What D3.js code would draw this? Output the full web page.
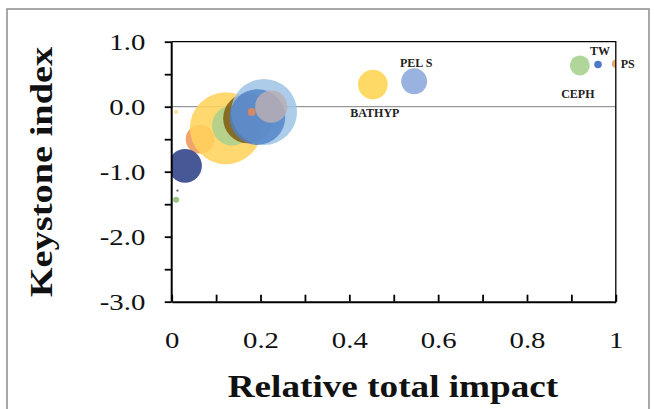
<!DOCTYPE html>
<html>
<head>
<meta charset="utf-8">
<script src="https://d3js.org/d3.v7.min.js"></script>
<style>
  body { margin: 0; background: #fff; }
  text { font-family: "Liberation Serif", "Times New Roman", serif; }
</style>
</head>
<body>
<div id="chart"></div>
<script>
// values
const groups    = ["", "", "", "", "", "", "", "", "", "", "", "", "BATHYP", "PEL S", "CEPH", "TW", "PS"];
const relImpact = [0.064, 0.122, 0.136, 0.172, 0.208, 0.193, 0.224, 0.18, 0.03, 0.01, 0.013, 0.01, 0.453, 0.546, 0.919, 0.96, 1.0];
const keystone  = [-0.50, -0.33, -0.29, -0.18, -0.08, -0.16, 0.0, -0.08, -0.91, -0.08, -1.29, -1.43, 0.34, 0.39, 0.635, 0.65, 0.66];
const biomass   = [16, 100, 31, 48, 84, 60, 20, 1.2, 22, 0.3, 0.1, 0.7, 17, 13, 7.7, 1.1, 1.2];
const xTicks = [0, 0.1, 0.2, 0.3, 0.4, 0.5, 0.6, 0.7, 0.8, 0.9, 1];
const yTicks = [1, 0.5, 0, -0.5, -1, -1.5, -2, -2.5, -3];

// styles
const fills = ["#ED7D31", "#FFD35C", "#A9D18E", "#7F5A10", "#9DC3E6", "#4F81C7", "#B8ADB4", "#F08A4B",
               "#3D4F91", "#FFC000", "#333333", "#70AD47", "#FFC000", "#8FAADC", "#A9D18E", "#4472C4", "#ED7D31"];
const alphas = [0.7, 0.88, 0.85, 0.85, 0.85, 0.8, 0.85, 0.8, 0.95, 0.5, 0.8, 0.7, 0.6, 0.9, 0.9, 0.95, 0.7];
// label offsets from bubble centre (dx, dy to baseline)
const labelPos = { "BATHYP": [2, 32, "middle"], "PEL S": [2, -14, "middle"], "CEPH": [-2, 33, "middle"],
                   "TW": [2, -9, "middle"], "PS": [5, 4, "start"] };

const W = 654, H = 409;
const margin = {left: 171.7, right: 38.2, top: 41.7, bottom: 107.3};
const iw = W - margin.left - margin.right, ih = H - margin.top - margin.bottom;
const stretch = 1.2;

const svg = d3.select("#chart").append("svg").attr("width", W).attr("height", H);

svg.append("rect").attr("x", 7).attr("y", 9).attr("width", 642).attr("height", 420)
   .attr("fill", "#fff").attr("stroke", "#8c8c8c").attr("stroke-width", 1.5);

const g = svg.append("g").attr("transform", "translate(" + margin.left + "," + margin.top + ")");

const x = d3.scaleLinear().domain([0, 1]).range([0, iw]);
const y = d3.scaleLinear().domain([-3, 1]).range([ih, 0]);
const r = d3.scaleSqrt().domain([0, 100]).range([0, 36]);

svg.append("clipPath").attr("id", "plotclip").append("rect")
   .attr("width", iw).attr("height", ih);

// zero line
g.append("line").attr("x1", 0).attr("x2", iw).attr("y1", y(0)).attr("y2", y(0))
 .attr("stroke", "#7f7f7f").attr("stroke-width", 1);

const pts = relImpact.map(function(v, i) {
    return {x: v, y: keystone[i], s: biomass[i], name: groups[i], i: i};
});

g.append("g").attr("clip-path", "url(#plotclip)")
 .selectAll("circle").data(pts).enter().append("circle")
 .attr("cx", function(d) { return x(d.x); })
 .attr("cy", function(d) { return y(d.y); })
 .attr("r", function(d) { return r(d.s); })
 .attr("fill", function(d) { return fills[d.i]; })
 .attr("fill-opacity", function(d) { return alphas[d.i]; });

// top and right frame
g.append("path").attr("d", "M0,0H" + iw + "V" + ih).attr("fill", "none")
 .attr("stroke", "#000").attr("stroke-width", 1.3);

// axes
const yAxis = g.append("g")
  .call(d3.axisLeft(y).tickValues(yTicks).tickSize(7)
        .tickFormat(function(d) { return Number.isInteger(d) ? d3.format(".1f")(d).replace("−", "-") : ""; }));
yAxis.select(".domain").attr("stroke-width", 2).attr("d", "M0," + ih + "V0");
yAxis.selectAll(".tick line").attr("stroke-width", 1.8);
yAxis.selectAll("text").attr("x", -22).attr("transform", "scale(" + stretch + ",1)")
     .attr("font-size", 24).attr("fill", "#111").style("font-family", "Liberation Serif");

const xAxis = g.append("g").attr("transform", "translate(0," + ih + ")")
  .call(d3.axisBottom(x).tickValues(xTicks).tickSizeInner(-7).tickSizeOuter(0).tickPadding(29)
        .tickFormat(function(d) { return Math.round(d * 10) % 2 === 0 ? d3.format("~g")(d) : ""; }));
xAxis.select(".domain").attr("stroke-width", 2);
xAxis.selectAll(".tick line").attr("stroke-width", 1.8);
xAxis.selectAll("text").attr("transform", "scale(" + stretch + ",1)")
     .attr("font-size", 24).attr("fill", "#111").style("font-family", "Liberation Serif");

// bubble labels
g.selectAll("text.lbl").data(pts.filter(function(d) { return d.name; })).enter()
 .append("text").attr("class", "lbl")
 .attr("x", function(d) { return x(d.x) + labelPos[d.name][0]; })
 .attr("y", function(d) { return y(d.y) + labelPos[d.name][1]; })
 .attr("text-anchor", function(d) { return labelPos[d.name][2]; })
 .attr("font-size", 12).attr("font-weight", "bold").attr("fill", "#222")
 .text(function(d) { return d.name; });

// axis titles
svg.append("text")
   .attr("transform", "translate(393,397) scale(" + stretch + ",1)")
   .attr("text-anchor", "middle").attr("font-size", 31).attr("font-weight", "bold").attr("fill", "#111")
   .text("Relative total impact");

svg.append("text")
   .attr("transform", "translate(52,172) rotate(-90) scale(" + stretch + ",1)")
   .attr("text-anchor", "middle").attr("font-size", 32).attr("font-weight", "bold").attr("fill", "#111")
   .text("Keystone index");
</script>
</body>
</html>
